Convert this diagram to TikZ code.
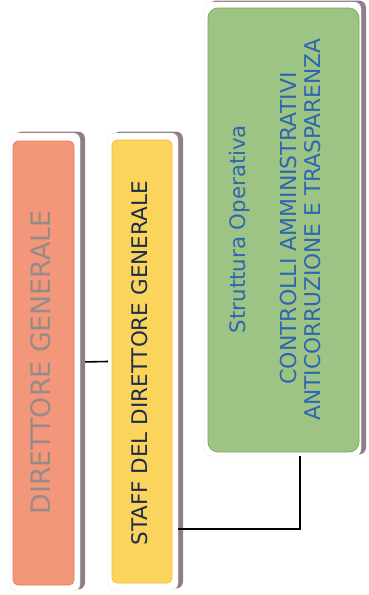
\documentclass[tikz,border=0pt]{standalone}
\usepackage{fontspec}
\setmainfont{DejaVu Sans}
\usetikzlibrary{shadows}
\definecolor{shadowc}{HTML}{8F7E87}
\definecolor{salmon}{HTML}{F3977B}
\definecolor{salmonedge}{HTML}{EC7652}
\definecolor{sun}{HTML}{FBD55B}
\definecolor{sunedge}{HTML}{F0C02C}
\definecolor{leaf}{HTML}{9DC484}
\definecolor{leafedge}{HTML}{79A660}
\definecolor{greytext}{HTML}{968A8A}
\definecolor{navytext}{HTML}{1F2D4A}
\definecolor{bluetext}{HTML}{2E67B0}
\begin{document}
\begin{tikzpicture}[x=1pt,y=-1pt,
  frame/.style={rectangle, fill=white, draw=black!8, line width=0.4pt,
    rounded corners=7pt, inner sep=0pt,
    drop shadow={shadow xshift=5pt, shadow yshift=1.5pt, fill=shadowc, opacity=1}},
  panel/.style={rectangle, inner sep=0pt, line width=0.7pt},
  vlabel/.style={rotate=90, anchor=base, inner sep=0pt},
  link/.style={draw=black, line width=1.6pt}]
\useasboundingbox (0,0) rectangle (368,595);

% white cards with their drop shadows
\node[frame, minimum width=70pt, minimum height=458pt] (dg) at (45,362) {};
\node[frame, minimum width=70pt, minimum height=457pt] (staff) at (143,361.5) {};
\node[frame, minimum width=157pt, minimum height=454pt] (ctrl) at (282.5,229) {};

% coloured panels
\node[panel, fill=salmon, draw=salmonedge, rounded corners=5pt,
  minimum width=61pt, minimum height=444pt] (dgp) at (43.5,363) {};
\node[panel, fill=sun, draw=sunedge, rounded corners=5pt,
  minimum width=60pt, minimum height=443pt] (staffp) at (142,361.5) {};
\node[panel, fill=leaf, draw=leafedge, rounded corners=10pt,
  minimum width=151pt, minimum height=444pt] (ctrlp) at (283.5,230) {};

% labels
\node[vlabel, text=greytext, font=\fontsize{26.8}{30}\selectfont] (dgt) at (50,362.5) {DIRETTORE GENERALE};
\node[vlabel, text=navytext, font=\fontsize{21.5}{24}\selectfont] (stafft) at (147,363.5) {STAFF DEL DIRETTORE GENERALE};
\node[vlabel, text=bluetext, font=\fontsize{21.3}{24}\selectfont] (ctrla) at (245,229) {Struttura Operativa};
\node[vlabel, text=bluetext, font=\fontsize{22}{24}\selectfont] (ctrlb) at (296,228.5) {CONTROLLI AMMINISTRATIVI};
\node[vlabel, text=bluetext, font=\fontsize{21.7}{24}\selectfont] (ctrlc) at (320,229.5) {ANTICORRUZIONE E TRASPARENZA};

% connectors
\draw[link, shorten <=5pt] (dg.east) -- (staff.west);
\coordinate (bend) at (300,529);
\draw[link] (staff.east |- bend) -- (bend) -- (bend |- ctrl.south);
\end{tikzpicture}
\end{document}
